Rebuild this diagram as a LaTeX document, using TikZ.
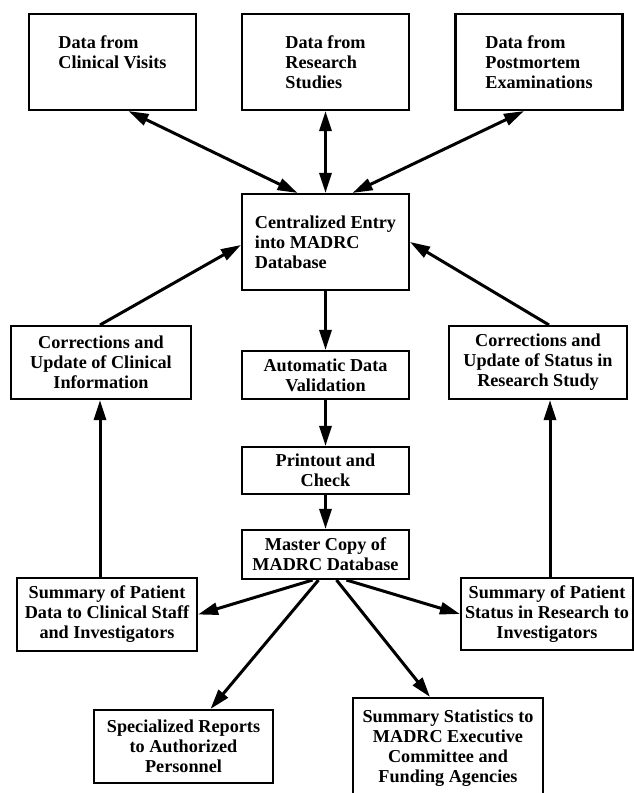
\documentclass[tikz,border=0pt]{standalone}
\usepackage{fontspec}
\setmainfont{Liberation Serif}
\usetikzlibrary{arrows.meta}

\begin{document}
\begin{tikzpicture}[x=1pt, y=-1pt,
    box/.style={draw, line width=2.1pt, inner sep=2pt, align=center,
      font=\bfseries\fontsize{18.2}{20}\selectfont},
    srcbox/.style={box, align=left, minimum width=167pt, minimum height=96pt,
      execute at begin node=\rule{0pt}{22pt}},
    link/.style={line width=3pt, -{Triangle[length=20pt,width=12pt]}},
    both/.style={link, {Triangle[length=20pt,width=12pt]}-{Triangle[length=20pt,width=12pt]}}]
  \clip (0,0) rectangle (634,793);
  \node[srcbox] (visits) at (112.5,62) {Data from\\Clinical Visits\\~};
  \node[srcbox] (studies) at (325.5,62) {Data from\\Research\\Studies};
  \node[srcbox] (postmortem) at (539,62) {Data from\\Postmortem\\Examinations};
  \node[srcbox] (entry) at (325.5,242) {Centralized Entry\\into MADRC\\Database};
  \node[box, minimum width=180pt, minimum height=73pt] (clincorr) at (101,362.5) {Corrections and\\Update of Clinical\\Information};
  \node[box, minimum width=178pt, minimum height=73pt] (rescorr) at (538,362.5) {Corrections and\\Update of Status in\\Research Study};
  \node[box, minimum width=167pt, minimum height=48pt] (valid) at (325.5,375) {Automatic Data\\Validation};
  \node[box, minimum width=167pt, minimum height=47pt] (check) at (325.5,470.5) {Printout and\\Check};
  \node[box, minimum width=167pt, minimum height=49pt] (master) at (325.5,554.5) {Master Copy of\\MADRC Database};
  \node[box, minimum width=180pt, minimum height=73pt] (clinsum) at (107,614.5) {Summary of Patient\\Data to Clinical Staff\\and Investigators};
  \node[box, minimum width=172pt, minimum height=72pt] (ressum) at (547,614) {Summary of Patient\\Status in Research to\\Investigators};
  \node[box, minimum width=179pt, minimum height=73pt] (reports) at (183.5,746.5) {Specialized Reports\\to Authorized\\Personnel};
  \node[box, minimum width=190pt, minimum height=100pt] (stats) at (448,748) {Summary Statistics to\\MADRC Executive\\Committee and\\Funding Agencies};

  \draw[both] ([xshift=16]visits.south) -- ([xshift=-28]entry.north);
  \draw[both] (studies.south) -- (entry.north);
  \draw[both] ([xshift=-15]postmortem.south) -- ([xshift=27]entry.north);
  \draw[link] ([xshift=-1]clincorr.north) -- ([yshift=-3]entry.west);
  \draw[link] ([xshift=11]rescorr.north) -- (entry.east);
  \draw[link] (entry) -- (valid);
  \draw[link] (valid) -- (check);
  \draw[link] (check) -- (master);
  \draw[link] ([xshift=-7]clinsum.north) -- ([xshift=-1]clincorr.south);
  \draw[link] ([xshift=3]ressum.north) -- ([xshift=12]rescorr.south);
  \draw[link] ([xshift=-13]master.south) -- (clinsum.east);
  \draw[link] ([xshift=21]master.south) -- (ressum.west);
  \draw[link] ([xshift=-7]master.south) -- ([xshift=27]reports.north);
  \draw[link] ([xshift=11]master.south) -- ([xshift=-18]stats.north);
\end{tikzpicture}
\end{document}
